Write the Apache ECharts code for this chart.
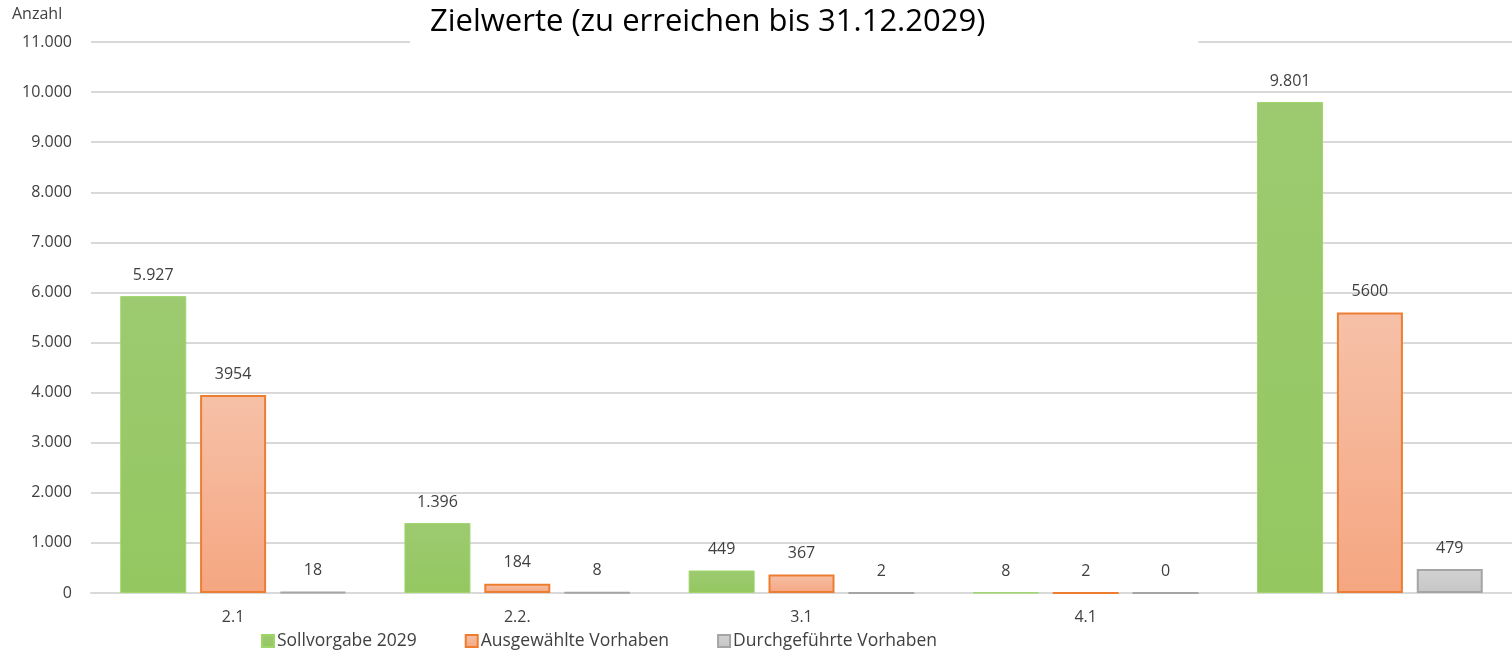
<!DOCTYPE html>
<html>
<head>
<meta charset="utf-8">
<script src="https://cdn.jsdelivr.net/npm/echarts@6/dist/echarts.min.js"></script>
<style>
  html, body { margin: 0; padding: 0; background: #fff; }
  #chart { width: 1512px; height: 655px; }
</style>
</head>
<body>
<div id="chart"></div>
<script>
// Daten
const categories = ['2.1', '2.2.', '3.1', '4.1', '']
const sollvorgabe = [5927, 1396, 449, 8, 9801]
const ausgewaehlt = [3954, 184, 367, 2, 5600]
const durchgefuehrt = [18, 8, 2, 0, 479]
const seriesNames = ['Sollvorgabe 2029', 'Ausgewählte Vorhaben', 'Durchgeführte Vorhaben']

const FONT = '"Open Sans", sans-serif'
const TXT = '#404040'

// Tausenderpunkt
const deNum = v => String(v).replace(/\B(?=(\d{3})+(?!\d))/g, '.')

const grad = (top, bottom) => new echarts.graphic.LinearGradient(0, 0, 0, 1, [
  { offset: 0, color: top },
  { offset: 1, color: bottom }
])

const label = fmt => ({
  show: true,
  position: 'top',
  distance: 13,
  color: TXT,
  fontFamily: FONT,
  fontSize: 16,
  formatter: p => fmt(p.value)
})

const chart = echarts.init(document.getElementById('chart'))
chart.setOption({
  animation: false,
  title: {
    text: 'Zielwerte (zu erreichen bis 31.12.2029)',
    left: 410,
    top: 3,
    backgroundColor: '#fff',
    padding: [4, 213, 8, 20],
    textStyle: { fontFamily: FONT, fontSize: 31, fontWeight: 'normal', color: '#000' }
  },
  legend: {
    data: seriesNames,
    bottom: 0,
    left: 256,
    itemWidth: 12,
    itemHeight: 12,
    itemGap: 48,
    icon: 'rect',
    textStyle: { fontFamily: FONT, fontSize: 17.5, color: TXT, padding: [0, 0, 0, -2] }
  },
  grid: { left: 91, right: 0, top: 42, bottom: 62 },
  xAxis: {
    type: 'category',
    data: categories,
    axisTick: { show: false },
    axisLine: { lineStyle: { color: '#d9d9d9', width: 2 } },
    axisLabel: { fontFamily: FONT, fontSize: 16, color: TXT, margin: 16 }
  },
  yAxis: {
    type: 'value',
    name: 'Anzahl',
    nameLocation: 'end',
    nameGap: 20,
    nameTextStyle: { fontFamily: FONT, fontSize: 16, color: TXT, align: 'left', padding: [0, 0, 0, -79] },
    min: 0,
    max: 11000,
    interval: 1000,
    axisLabel: { fontFamily: FONT, fontSize: 16, color: TXT, margin: 19, formatter: deNum },
    splitLine: { lineStyle: { color: '#d9d9d9', width: 2 } }
  },
  series: [
    {
      name: seriesNames[0],
      type: 'bar',
      data: sollvorgabe,
      barWidth: 66,
      barGap: '21%',
      itemStyle: { color: grad('#9dca70', '#94c760'), borderColor: '#9fd66a', borderWidth: 1 },
      label: label(deNum)
    },
    {
      name: seriesNames[1],
      type: 'bar',
      data: ausgewaehlt,
      barWidth: 66,
      itemStyle: { color: grad('#f6c1a8', '#f5a681'), borderColor: '#ed7d31', borderWidth: 2 },
      label: label(v => String(v))
    },
    {
      name: seriesNames[2],
      type: 'bar',
      data: durchgefuehrt,
      barWidth: 66,
      itemStyle: { color: grad('#d2d2d2', '#c6c6c6'), borderColor: '#a5a5a5', borderWidth: 2 },
      label: label(v => String(v))
    }
  ]
})
</script>
</body>
</html>
